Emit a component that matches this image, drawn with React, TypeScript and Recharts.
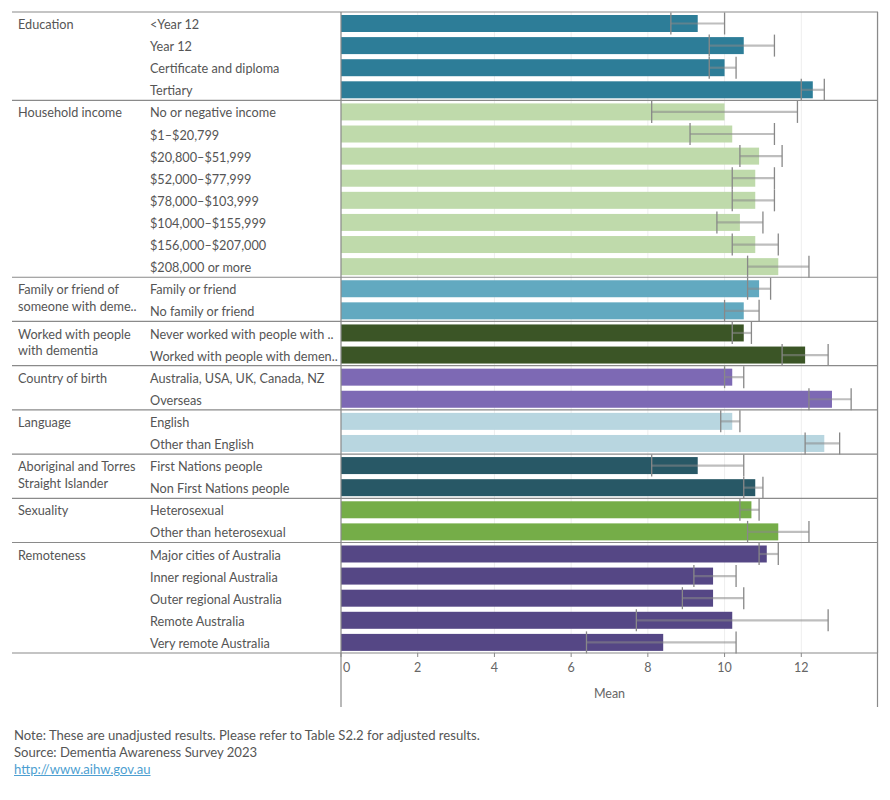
import { BarChart, Bar, XAxis, YAxis, CartesianGrid } from 'recharts';

const groupLabels = [
  ['Education'],
  ['Household income'],
  ['Family or friend of', 'someone with deme..'],
  ['Worked with people', 'with dementia'],
  ['Country of birth'],
  ['Language'],
  ['Aboriginal and Torres', 'Straight Islander'],
  ['Sexuality'],
  ['Remoteness'],
];
const groupColors = ['#2d7d98', '#bfdaab', '#62a9c0', '#3b5526', '#7d69b4', '#b8d6e0', '#285866', '#75ad48', '#554785'];

const categories = [
  '<Year 12', 'Year 12', 'Certificate and diploma', 'Tertiary',
  'No or negative income', '$1–$20,799', '$20,800–$51,999', '$52,000–$77,999', '$78,000–$103,999', '$104,000–$155,999', '$156,000–$207,000', '$208,000 or more',
  'Family or friend', 'No family or friend',
  'Never worked with people with ..', 'Worked with people with demen..',
  'Australia, USA, UK, Canada, NZ', 'Overseas',
  'English', 'Other than English',
  'First Nations people', 'Non First Nations people',
  'Heterosexual', 'Other than heterosexual',
  'Major cities of Australia', 'Inner regional Australia', 'Outer regional Australia', 'Remote Australia', 'Very remote Australia',
];
const groupOf = [0, 0, 0, 0, 1, 1, 1, 1, 1, 1, 1, 1, 2, 2, 3, 3, 4, 4, 5, 5, 6, 6, 7, 7, 8, 8, 8, 8, 8];
const means = [9.3, 10.5, 10.0, 12.3, 10.0, 10.2, 10.9, 10.8, 10.8, 10.4, 10.8, 11.4, 10.9, 10.5, 10.5, 12.1, 10.2, 12.8, 10.2, 12.6, 9.3, 10.8, 10.7, 11.4, 11.1, 9.7, 9.7, 10.2, 8.4];
const ciLow = [8.6, 9.6, 9.6, 12.0, 8.1, 9.1, 10.4, 10.2, 10.2, 9.8, 10.2, 10.6, 10.6, 10.0, 10.2, 11.5, 10.0, 12.2, 9.9, 12.1, 8.1, 10.5, 10.4, 10.6, 10.9, 9.2, 8.9, 7.7, 6.4];
const ciHigh = [10.0, 11.3, 10.3, 12.6, 11.9, 11.3, 11.5, 11.3, 11.3, 11.0, 11.4, 12.2, 11.2, 10.9, 10.7, 12.7, 10.5, 13.3, 10.4, 13.0, 10.5, 11.0, 10.9, 12.2, 11.4, 10.3, 10.5, 12.7, 10.3];
const xTicks = [0, 2, 4, 6, 8, 10, 12];

const data = categories.map((c, i) => ({
  id: c,
  mean: means[i],
  lo: ciLow[i],
  hi: ciHigh[i],
  group: groupOf[i],
  color: groupColors[groupOf[i]],
}));

const FONT = 'Lato, sans-serif';
const TOP = 12;
const PLOT_H = 641;
const ROW_H = PLOT_H / categories.length;
const LEFT = 341;
const RIGHT = 878;

function BarWithCI(props: any) {
  const { x, y, width, height, payload } = props;
  const k = width / payload.mean;
  const xl = x + k * payload.lo;
  const xh = x + k * payload.hi;
  const cy = y + height / 2;
  return (
    <g>
      <rect x={x} y={y} width={width} height={height} fill={payload.color} />
      <line x1={xl} x2={xh} y1={cy} y2={cy} stroke="#888" strokeOpacity={0.55} strokeWidth={2.2} />
      <line x1={xl} x2={xl} y1={cy - 11} y2={cy + 11} stroke="#888" strokeWidth={1.3} />
      <line x1={xh} x2={xh} y1={cy - 11} y2={cy + 11} stroke="#888" strokeWidth={1.3} />
    </g>
  );
}

function CategoryTick(props: any) {
  const { y, payload } = props;
  const i = payload.index;
  const g = groupOf[i];
  const first = i === 0 || groupOf[i - 1] !== g;
  const last = i === categories.length - 1;
  return (
    <g>
      {first && (
        <line x1={12} x2={RIGHT} y1={y - ROW_H / 2} y2={y - ROW_H / 2} stroke="#8a8a8a" strokeWidth={1.2} />
      )}
      {last && (
        <line x1={12} x2={RIGHT} y1={y + ROW_H / 2} y2={y + ROW_H / 2} stroke="#8a8a8a" strokeWidth={1.2} />
      )}
      {first &&
        groupLabels[g].map((t, j) => (
          <text key={j} x={18} y={y + 1 + j * 16.5} dominantBaseline="central" fontFamily={FONT} fontSize={12.7} fill="#555">
            {t}
          </text>
        ))}
      <text x={150} y={y + 1} dominantBaseline="central" fontFamily={FONT} fontSize={12.7} fill="#555">
        {payload.value}
      </text>
    </g>
  );
}

function MeanTick(props: any) {
  const { x, y, payload } = props;
  const v = payload.value;
  return (
    <text x={v === 0 ? x + 2 : x} y={y} dy="0.71em" textAnchor={v === 0 ? 'start' : 'middle'} fontFamily={FONT} fontSize={12.5} fill="#666">
      {v}
    </text>
  );
}

export default function App() {
  return (
    <div style={{ position: 'absolute', left: 0, top: 0, width: 890, height: 800, background: '#fff', fontFamily: FONT }}>
      <BarChart
        width={890}
        height={707}
        data={data}
        layout="vertical"
        barSize={17}
        margin={{ top: TOP, right: 890 - RIGHT, bottom: 0, left: 0 }}
      >
        <CartesianGrid vertical horizontal={false} stroke="#eeeeee" />
        <XAxis
          type="number"
          domain={[0, 14]}
          ticks={xTicks}
          height={54}
          axisLine={false}
          tickLine={{ stroke: '#888' }}
          tickSize={4}
          tickMargin={6}
          tick={<MeanTick />}
          label={{ value: 'Mean', position: 'insideBottom', offset: 9, fill: '#666', fontSize: 12.5, fontFamily: FONT }}
        />
        <YAxis
          type="category"
          dataKey="id"
          width={LEFT}
          interval={0}
          axisLine={false}
          tickLine={false}
          tick={<CategoryTick />}
        />
        <Bar dataKey="mean" isAnimationActive={false} shape={<BarWithCI />} />
      </BarChart>
      <svg width={890} height={720} style={{ position: 'absolute', left: 0, top: 0, pointerEvents: 'none' }}>
        <line x1={LEFT} x2={LEFT} y1={TOP} y2={707} stroke="#8a8a8a" strokeWidth={1.2} />
        <line x1={RIGHT - 0.5} x2={RIGHT - 0.5} y1={TOP} y2={707} stroke="#8a8a8a" strokeWidth={1.2} />
      </svg>
      <div style={{ position: 'absolute', left: 14, top: 727, fontSize: 13.1, color: '#555', lineHeight: '17px' }}>
        <div>Note: These are unadjusted results. Please refer to Table S2.2 for adjusted results.</div>
        <div>Source: Dementia Awareness Survey 2023</div>
        <div style={{ color: '#4e9fd1', textDecoration: 'underline' }}>http://www.aihw.gov.au</div>
      </div>
    </div>
  );
}
